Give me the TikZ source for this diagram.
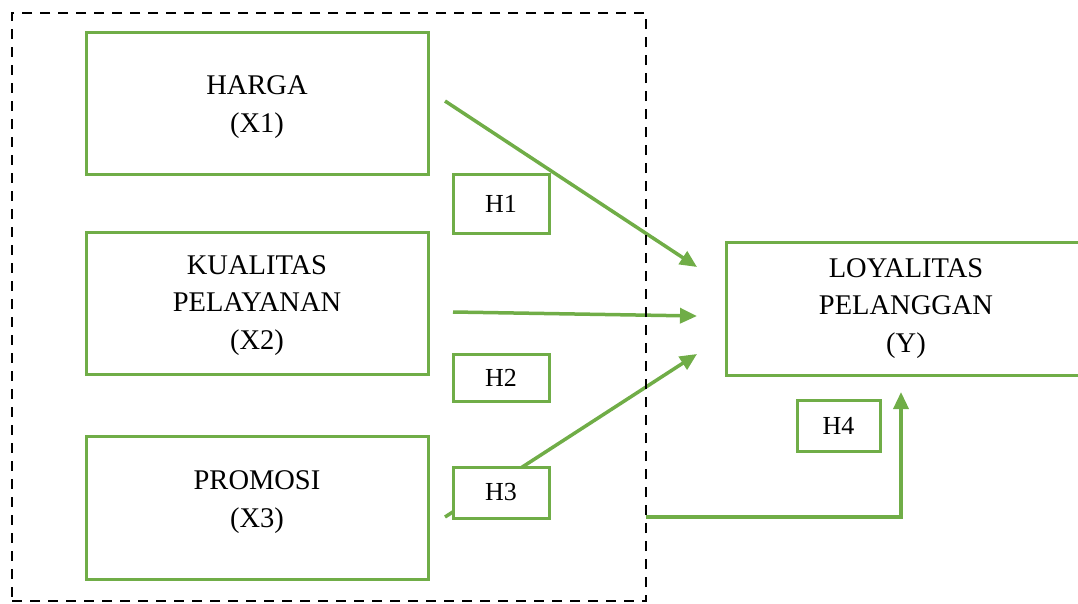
\documentclass[tikz,border=0pt]{standalone}
\usepackage{fontspec}
\setmainfont{Liberation Serif}
\usetikzlibrary{arrows.meta}
\definecolor{grn}{HTML}{70AD47}
\begin{document}
\begin{tikzpicture}[x=1pt,y=-1pt,
  box/.style={draw=grn,line width=3pt,fill=white,inner sep=0pt},
  lbl/.style={align=center,inner sep=0pt,font=\fontsize{28.5}{37.5}\selectfont},
  hbox/.style={draw=grn,line width=3pt,fill=white,inner sep=0pt,
    font=\fontsize{26}{30}\selectfont},
  arr/.style={draw=grn,line width=3.5pt,-{Triangle[length=17pt,width=15pt]}},
  dashbox/.style={draw=black,line width=2.8pt,dash pattern=on 10pt off 8pt,inner sep=0pt}]
\useasboundingbox (0,0) rectangle (1078,603);
% main boxes
\node[box,minimum width=342pt,minimum height=142pt] (x1) at (257,103) {};
\node[lbl] (x1t) at (257,107) {HARGA\\(X1)};
\node[box,minimum width=342pt,minimum height=142pt] (x2) at (257,303) {};
\node[lbl] (x2t) at (257,305.5) {KUALITAS\\PELAYANAN\\(X2)};
\node[box,minimum width=342pt,minimum height=143pt] (x3) at (257,508) {};
\node[lbl] (x3t) at (257,502) {PROMOSI\\(X3)};
\node[box,minimum width=358pt,minimum height=133pt,anchor=north west] (y) at (725,241) {};
\node[lbl] (yt) at (906,308.5) {LOYALITAS\\PELANGGAN\\(Y)};
% arrow end points
\coordinate (a1s) at (445,101); \coordinate (a1e) at (697,267);
\coordinate (a2s) at (453,312); \coordinate (a2e) at (697,316);
\coordinate (a3s) at (445,517); \coordinate (a3e) at (697,354);
\coordinate (a4s) at (646,517); \coordinate (a4e) at (901,392);
\draw[arr] (a1s) -- (a1e);
\draw[arr] (a2s) -- (a2e);
\draw[arr] (a3s) -- (a3e);
\draw[arr] (a4s) -| (a4e);
% hypothesis labels
\node[hbox,minimum width=96pt,minimum height=59pt] (h1) at (501,203.5) {H1};
\node[hbox,minimum width=96pt,minimum height=47pt] (h2) at (501,377.5) {H2};
\node[hbox,minimum width=96pt,minimum height=51pt] (h3) at (501,492.5) {H3};
\node[hbox,minimum width=83pt,minimum height=51pt] (h4) at (838.5,425.5) {H4};
% dashed frame
\node[dashbox,minimum width=634pt,minimum height=588pt] (frame) at (329,307) {};
\end{tikzpicture}
\end{document}
